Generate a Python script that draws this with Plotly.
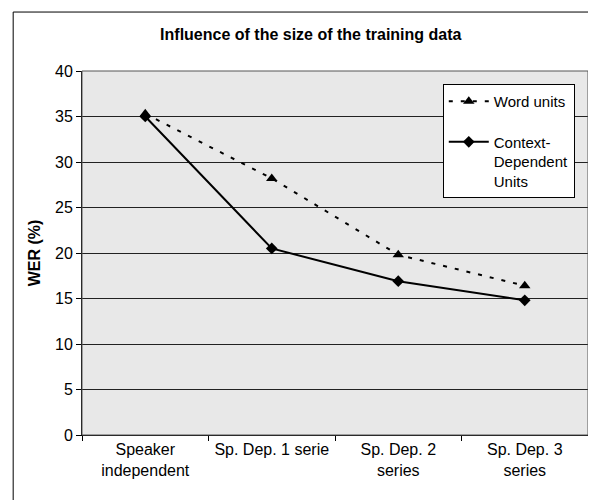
import plotly.graph_objects as go

categories = ["Speaker<br>independent", "Sp. Dep. 1 serie", "Sp. Dep. 2<br>series", "Sp. Dep. 3<br>series"]
word_units = [35.3, 28.2, 19.8, 16.4]
context_dependent = [35.0, 20.5, 16.9, 14.8]
y_ticks = [0, 5, 10, 15, 20, 25, 30, 35, 40]

FONT = "Liberation Sans, Arial, sans-serif"

fig = go.Figure()
fig.add_trace(go.Scatter(
    x=categories, y=word_units, name="Word units", mode="lines+markers",
    legendgroup="a",
    line=dict(color="black", width=2, dash="4px,8px"),
    marker=dict(symbol="triangle-up", size=10, color="black"),
))
fig.add_trace(go.Scatter(
    x=categories, y=context_dependent, name="Context-<br>Dependent<br>Units", mode="lines+markers",
    legendgroup="b",
    line=dict(color="black", width=2),
    marker=dict(symbol="diamond", size=9, color="black"),
))

fig.update_layout(
    width=596, height=500,
    margin=dict(l=74, r=16, t=63, b=73),
    paper_bgcolor="white",
    plot_bgcolor="#e8e8e8",
    font=dict(family=FONT, size=16, color="black"),
    title=dict(text="<b>Influence of the size of the training data</b>",
               x=0.508, xanchor="center", y=0.948, yanchor="middle",
               font=dict(size=16, family=FONT)),
    showlegend=True,
    legend=dict(x=0.713, y=0.964, xanchor="left", yanchor="top",
                bgcolor="white", bordercolor="black", borderwidth=1,
                font=dict(size=15, family=FONT), tracegroupgap=18,
                itemwidth=40, valign="top"),
    xaxis=dict(
        type="category", tickson="boundaries", ticks="outside", ticklen=5,
        tickcolor="black", showline=True, linecolor="black", linewidth=1,
        showgrid=False, range=[-0.5, 3.5], automargin=False,
        tickfont=dict(size=16),
    ),
    yaxis=dict(
        range=[0, 40], tickvals=y_ticks, ticks="outside", ticklen=5,
        tickcolor="black", showline=True, linecolor="black", linewidth=1,
        showgrid=True, gridcolor="#222222", gridwidth=1, zeroline=False,
        automargin=False,
        title=dict(text="<b>WER (%)</b>", font=dict(size=16), standoff=10),
        tickfont=dict(size=16),
    ),
    shapes=[
        dict(type="rect", xref="paper", yref="paper",
             x0=-0.136, x1=1.05, y0=-0.25, y1=1.162,
             line=dict(color="black", width=1), fillcolor="rgba(0,0,0,0)", layer="below"),
        dict(type="rect", xref="paper", yref="paper", x0=0, x1=1, y0=0, y1=1,
             line=dict(color="#555555", width=1), fillcolor="rgba(0,0,0,0)"),
    ],
)

fig.write_html("out.html")
